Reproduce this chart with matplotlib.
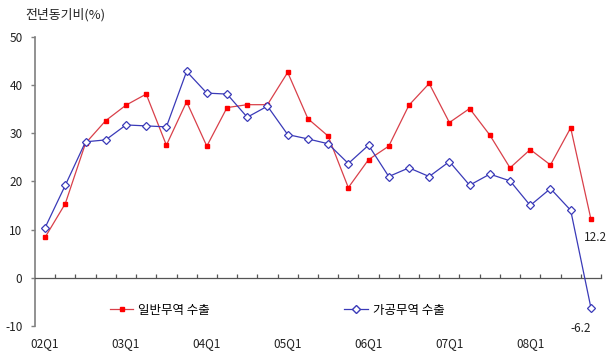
import matplotlib
matplotlib.use("Agg")
import matplotlib.pyplot as plt
from matplotlib.lines import Line2D
import matplotlib.transforms as mtransforms

plt.rcParams['font.family'] = ['Noto Sans CJK KR', 'DejaVu Sans']

quarters = ['02Q1', '02Q2', '02Q3', '02Q4',
            '03Q1', '03Q2', '03Q3', '03Q4',
            '04Q1', '04Q2', '04Q3', '04Q4',
            '05Q1', '05Q2', '05Q3', '05Q4',
            '06Q1', '06Q2', '06Q3', '06Q4',
            '07Q1', '07Q2', '07Q3', '07Q4',
            '08Q1', '08Q2', '08Q3', '08Q4']

general_trade = [8.4, 15.4, 27.9, 32.6, 35.8, 38.1, 27.5, 36.5,
                 27.3, 35.3, 35.9, 35.9, 42.6, 33.0, 29.4, 18.7,
                 24.5, 27.3, 35.8, 40.3, 32.2, 35.1, 29.6, 22.8,
                 26.6, 23.4, 31.1, 12.2]

processing_trade = [10.4, 19.2, 28.2, 28.6, 31.7, 31.5, 31.3, 42.8,
                    38.3, 38.1, 33.3, 35.6, 29.7, 28.8, 27.8, 23.7,
                    27.5, 21.0, 22.8, 21.0, 24.1, 19.2, 21.5, 20.1,
                    15.0, 18.5, 14.0, -6.2]

label_quarters = ['02Q1', '03Q1', '04Q1', '05Q1', '06Q1', '07Q1', '08Q1']
y_ticks = [-10, 0, 10, 20, 30, 40, 50]

red_line = '#D9404A'
red_mark = '#FF0000'
blue_line = '#3A3AB8'
axis_gray = '#7F7F7F'

fig = plt.figure(figsize=(6.06, 3.54), dpi=100)
ax = fig.add_axes([35 / 606, (354 - 326) / 354, 566 / 606, (326 - 36.7) / 354])

x = list(range(len(quarters)))
ax.plot(x, general_trade, color=red_line, lw=0.9, marker='s', ms=3.4,
        mfc=red_mark, mec=red_mark, zorder=3)
ax.plot(x, processing_trade, color=blue_line, lw=0.9, marker='D', ms=4.0,
        mfc='white', mec=blue_line, mew=0.9, zorder=3)

ax.set_xlim(-0.5, len(quarters) - 0.5)
ax.set_ylim(-10, 50)

# y axis on the left, x axis along zero
for side in ('top', 'right'):
    ax.spines[side].set_visible(False)
ax.spines['left'].set_color(axis_gray)
ax.spines['left'].set_linewidth(1.2)
ax.spines['bottom'].set_position(('data', 0))
ax.spines['bottom'].set_color('#555555')
ax.spines['bottom'].set_linewidth(0.9)

ax.set_yticks(y_ticks)
ax.set_yticklabels([str(v) for v in y_ticks], fontsize=8.5, color='#222222')
ax.tick_params(axis='y', direction='out', length=3, width=1, color=axis_gray, pad=6)

ax.set_xticks([i + 0.5 for i in range(len(quarters) - 1)] + [len(quarters) - 0.5])
ax.set_xticklabels([])
ax.tick_params(axis='x', direction='in', length=3, width=0.9, color='#555555')

# quarter labels along the bottom
trans = mtransforms.blended_transform_factory(ax.transData, ax.transAxes)
for q in label_quarters:
    ax.text(quarters.index(q), -0.062, q, transform=trans, ha='center', va='center',
            fontsize=8.5, color='#222222')

ax.text(-1.0, 1.075, '전년동기비(%)', transform=trans, ha='left', va='center',
        fontsize=9.3, color='#222222')

# end-point values
ax.annotate(f'{general_trade[-1]:.1f}', (x[-1], general_trade[-1]), xytext=(3, -13),
            textcoords='offset points', ha='center', va='center', fontsize=8.5, color='#222222')
ax.annotate(f'{processing_trade[-1]:.1f}', (x[-1], processing_trade[-1]), xytext=(-7, -15),
            textcoords='offset points', ha='center', va='center', fontsize=8.5, color='#222222')

handles = [
    Line2D([], [], color=red_line, lw=0.9, marker='s', ms=3.4, mfc=red_mark, mec=red_mark),
    Line2D([], [], color=blue_line, lw=0.9, marker='D', ms=4.0, mfc='white', mec=blue_line),
]
ax.legend(handles, ['일반무역 수출', '가공무역 수출'], ncol=2, frameon=False,
          fontsize=9, handlelength=1.9, handletextpad=0.4, columnspacing=10.7,
          loc='center left', bbox_to_anchor=(0.112, 0.055))

fig.savefig('out.png', dpi=100)
